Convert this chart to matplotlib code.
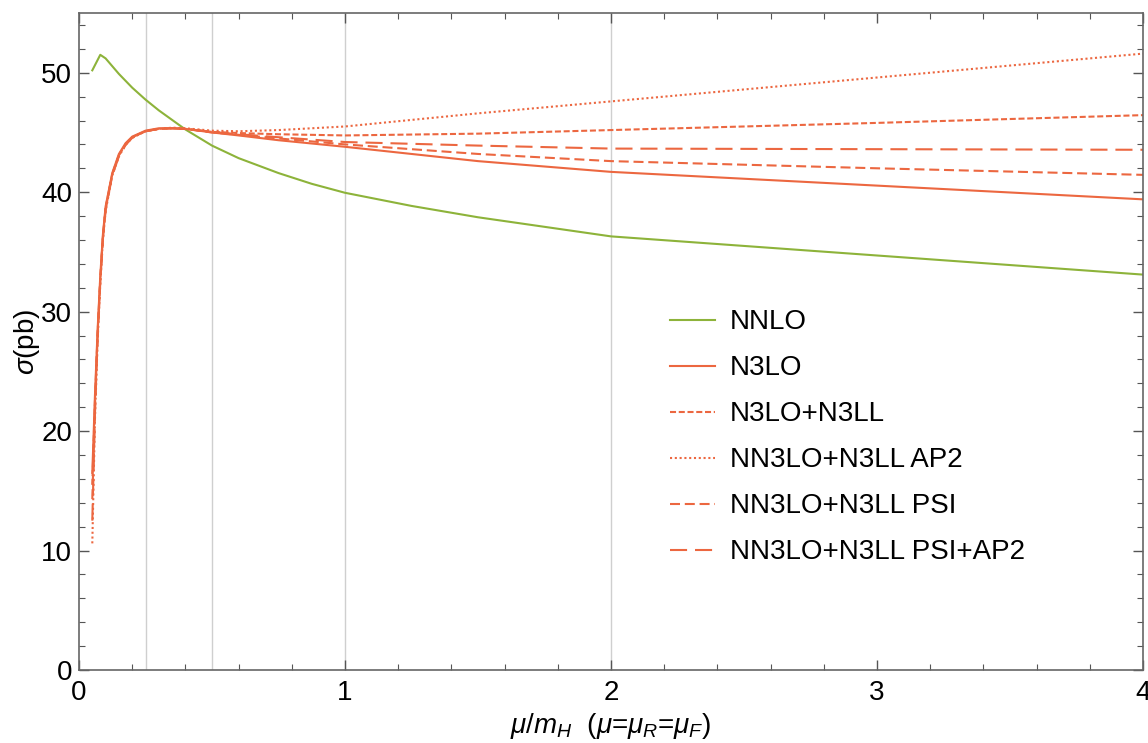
import numpy as np
import matplotlib.pyplot as plt

# values
x_nnlo = [0.05, 0.08, 0.1, 0.15, 0.2, 0.25, 0.3, 0.4, 0.5, 0.6, 0.75,
          0.875, 1.0, 1.25, 1.5, 2.0, 3.0, 4.0]
nnlo = [50.2, 51.5, 51.2, 49.9, 48.75, 47.75, 46.85, 45.25, 43.9, 42.85, 41.6,
        40.7, 39.95, 38.85, 37.9, 36.3, 34.7, 33.1]

x_n3 = [0.05, 0.06, 0.07, 0.08, 0.09, 0.1, 0.125, 0.15, 0.175, 0.2, 0.25,
        0.3, 0.35, 0.4, 0.5, 0.6, 0.75, 1.0, 1.5, 2.0, 3.0, 4.0]
n3lo = [16.5, 23.0, 28.5, 33.0, 36.5, 38.8, 41.6, 43.2, 44.1, 44.65, 45.15,
        45.35, 45.35, 45.3, 45.0, 44.75, 44.35, 43.8, 42.6, 41.7, 40.55, 39.4]
n3lo_n3ll = [15.5, 22.5, 28.2, 32.8, 36.3, 38.7, 41.5, 43.1, 44.0, 44.6, 45.1,
             45.3, 45.35, 45.3, 45.05, 44.95, 44.85, 44.75, 44.9, 45.2, 45.8,
             46.45]
ap2 = [10.6, 21.0, 27.5, 32.3, 36.0, 38.4, 41.4, 43.0, 43.95, 44.55, 45.1,
       45.3, 45.4, 45.35, 45.15, 45.1, 45.2, 45.5, 46.6, 47.6, 49.6, 51.6]
psi = [14.3, 22.0, 28.0, 32.6, 36.2, 38.6, 41.5, 43.1, 44.0, 44.6, 45.1,
       45.3, 45.35, 45.3, 45.0, 44.8, 44.5, 44.0, 43.2, 42.6, 42.0, 41.45]
psi_ap2 = [12.5, 21.5, 27.8, 32.5, 36.1, 38.5, 41.4, 43.0, 43.95, 44.55, 45.1,
           45.3, 45.35, 45.3, 45.05, 44.85, 44.6, 44.2, 43.9, 43.65, 43.6,
           43.55]

grid_x = [0.25, 0.5, 1, 2]

green = '#8db33a'
orange = '#ec6740'

plt.rcParams['font.family'] = ['Liberation Sans', 'DejaVu Sans']
plt.rcParams['mathtext.fontset'] = 'custom'
plt.rcParams['mathtext.rm'] = 'Liberation Sans'
plt.rcParams['mathtext.it'] = 'Liberation Sans:italic'
plt.rcParams['font.size'] = 20

fig = plt.figure(figsize=(11.48, 7.43), dpi=100)
ax = fig.add_axes([79/1148, 1 - 670/743, 1064/1148, 657/743])

for gx in grid_x:
    ax.axvline(gx, color='#cfcfcf', lw=1, zorder=0)

lw = 1.5
ax.plot(x_nnlo, nnlo, color=green, lw=lw, label='NNLO')
ax.plot(x_n3, n3lo, color=orange, lw=lw, label='N3LO')
ax.plot(x_n3, n3lo_n3ll, color=orange, lw=lw, ls=(0, (2.9, 1.3)),
        label='N3LO+N3LL')
ax.plot(x_n3, ap2, color=orange, lw=lw, ls=(0, (1.0, 1.3)),
        label='NN3LO+N3LL AP2')
ax.plot(x_n3, psi, color=orange, lw=lw, ls=(0, (4.8, 2.3)),
        label='NN3LO+N3LL PSI')
ax.plot(x_n3, psi_ap2, color=orange, lw=lw, ls=(0, (8.2, 3.8)),
        label='NN3LO+N3LL PSI+AP2')

ax.set_xlim(0, 4)
ax.set_ylim(0, 55)
ax.set_xticks([0, 1, 2, 3, 4])
ax.set_xticks(np.arange(0, 4.01, 0.2), minor=True)
ax.set_yticks([0, 10, 20, 30, 40, 50])
ax.set_yticks(np.arange(0, 55.1, 2), minor=True)
ax.tick_params(which='both', direction='in', top=True, right=True,
               color='#555555', labelcolor='black')
ax.tick_params(which='major', length=7, width=1)
ax.tick_params(which='minor', length=4, width=0.8)
ax.tick_params(axis='x', pad=7)
ax.tick_params(axis='y', pad=5)
for sp in ax.spines.values():
    sp.set_color('#666666')
    sp.set_linewidth(1.2)

ax.set_xlabel(r'$\mu/m_H$  $(\mu$=$\mu_R$=$\mu_F)$', labelpad=4)
ax.set_ylabel(r'$\sigma$(pb)', labelpad=-1)

ax.legend(loc='upper left', bbox_to_anchor=(0.555, 0.549), frameon=False,
          borderpad=0, borderaxespad=0, handlelength=1.62,
          handletextpad=0.54, labelspacing=0.72)

fig.savefig('out.png', dpi=100)
